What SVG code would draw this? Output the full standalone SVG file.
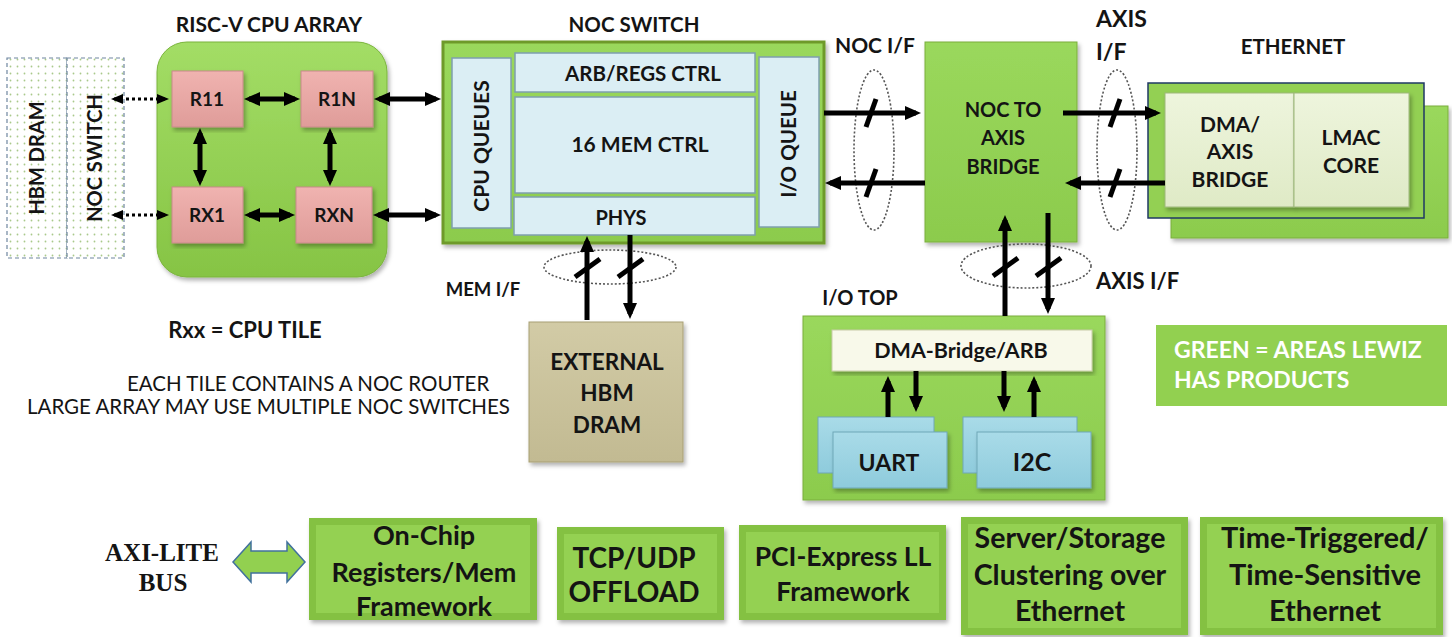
<svg xmlns="http://www.w3.org/2000/svg" width="1452" height="637" viewBox="0 0 1452 637">
<defs>
<style>
text{font-family:Lato,"Open Sans","Liberation Sans",sans-serif;font-weight:bold;fill:#141414;text-anchor:middle}
.reg{font-weight:normal}
.arr{stroke:#000;stroke-width:5;fill:none}
.dot{stroke:#000;stroke-width:3;stroke-dasharray:3 3;fill:none}
.ell{stroke:#555;stroke-width:1.6;stroke-dasharray:2 2;fill:none}
.green{fill:url(#gGreen);stroke:#7aae3c;stroke-width:1}
.inblue{fill:#dbeef4;stroke:#7f9fae;stroke-width:1.5}
.tile{fill:url(#gPink);stroke:#c88a8a;stroke-width:1}
.bev{fill:#84c143}
.bevin{fill:#94d152}
</style>
<linearGradient id="gGreen" x1="0" y1="0" x2="0" y2="1"><stop offset="0" stop-color="#9ad85c"/><stop offset="1" stop-color="#8ccb4d"/></linearGradient>
<linearGradient id="gRound" x1="0" y1="0" x2="0" y2="1"><stop offset="0" stop-color="#a3dd66"/><stop offset="1" stop-color="#86c444"/></linearGradient>
<linearGradient id="gPink" x1="0" y1="0" x2="0" y2="1"><stop offset="0" stop-color="#f0b3b0"/><stop offset="1" stop-color="#df9c99"/></linearGradient>
<linearGradient id="gTan" x1="0" y1="0" x2="0" y2="1"><stop offset="0" stop-color="#d2cba6"/><stop offset="1" stop-color="#c2ba92"/></linearGradient>
<linearGradient id="gLite" x1="0" y1="0" x2="0" y2="1"><stop offset="0" stop-color="#eef5dd"/><stop offset="1" stop-color="#dfeac6"/></linearGradient>
<linearGradient id="gCyan" x1="0" y1="0" x2="0" y2="1"><stop offset="0" stop-color="#a9dbe8"/><stop offset="1" stop-color="#8ecbdc"/></linearGradient>
<pattern id="dots" width="7" height="7" patternUnits="userSpaceOnUse"><rect width="7" height="7" fill="#fff"/><circle cx="3.5" cy="3.5" r="0.9" fill="#a9c98a"/></pattern>
<filter id="sh" x="-5%" y="-5%" width="115%" height="115%"><feDropShadow dx="2" dy="3" stdDeviation="2" flood-color="#000" flood-opacity="0.3"/></filter>
<marker id="ah" markerUnits="userSpaceOnUse" markerWidth="16" markerHeight="16" refX="11" refY="8" orient="auto-start-reverse"><path d="M0,1 L16,8 L0,15 z" fill="#000"/></marker>
<marker id="ahs" markerUnits="userSpaceOnUse" markerWidth="12" markerHeight="12" refX="9" refY="6" orient="auto-start-reverse"><path d="M0,1 L12,6 L0,11 z" fill="#000"/></marker>
</defs>
<rect width="1452" height="637" fill="#fff"/>

<!-- left dashed boxes -->
<g id="hbm-dram-left">
<rect x="7" y="58" width="60" height="200" fill="url(#dots)" stroke="#6f86a0" stroke-width="1.2" stroke-dasharray="4 3"/>
<text x="0" y="0" font-size="20" transform="translate(44,158) rotate(-90)">HBM DRAM</text>
</g>
<g id="noc-switch-left">
<rect x="67" y="58" width="57" height="200" fill="url(#dots)" stroke="#6f86a0" stroke-width="1.2" stroke-dasharray="4 3"/>
<text x="0" y="0" font-size="20" transform="translate(102,158) rotate(-90)">NOC SWITCH</text>
</g>

<!-- RISC-V array -->
<g id="riscv-array">
<text x="269" y="32" font-size="21">RISC-V CPU ARRAY</text>
<rect x="157" y="42" width="230" height="235" rx="30" fill="url(#gRound)" stroke="#7ab43c" filter="url(#sh)"/>
</g>
<g id="r11"><rect class="tile" x="172" y="71" width="71" height="56" filter="url(#sh)"/><text x="207" y="106" font-size="19">R11</text></g>
<g id="r1n"><rect class="tile" x="301" y="71" width="72" height="56" filter="url(#sh)"/><text x="337" y="106" font-size="19">R1N</text></g>
<g id="rx1"><rect class="tile" x="172" y="187" width="71" height="56" filter="url(#sh)"/><text x="207" y="222" font-size="19">RX1</text></g>
<g id="rxn"><rect class="tile" x="296" y="187" width="76" height="56" filter="url(#sh)"/><text x="334" y="222" font-size="19">RXN</text></g>

<!-- NOC switch -->
<g id="noc-switch">
<text x="634" y="32" font-size="20.5">NOC SWITCH</text>
<rect x="443" y="42" width="381" height="201" fill="url(#gGreen)" stroke="#6e9a2a" stroke-width="3" filter="url(#sh)"/>
</g>
<g id="cpu-queues"><rect class="inblue" x="452" y="58" width="59" height="170"/><text x="0" y="0" font-size="21" transform="translate(489,146) rotate(-90)">CPU QUEUES</text></g>
<g id="arb-regs"><rect class="inblue" x="515" y="53" width="240" height="39"/><text x="643" y="81" font-size="20.5">ARB/REGS CTRL</text></g>
<g id="mem-ctrl"><rect class="inblue" x="515" y="97" width="240" height="96"/><text x="640" y="152" font-size="21">16 MEM CTRL</text></g>
<g id="phys"><rect class="inblue" x="514" y="197" width="241" height="38"/><text x="621" y="225" font-size="20">PHYS</text></g>
<g id="io-queue"><rect class="inblue" x="759" y="57" width="60" height="170"/><text x="0" y="0" font-size="20.5" transform="translate(796,144) rotate(-90)">I/O QUEUE</text></g>

<!-- NOC to AXIS bridge -->
<g id="noc-axis-bridge">
<rect class="green" x="925" y="42" width="152" height="200" filter="url(#sh)"/>
<text x="1003" y="117" font-size="20">NOC TO</text>
<text x="1003" y="145" font-size="20">AXIS</text>
<text x="1003" y="174" font-size="20">BRIDGE</text>
</g>

<!-- Ethernet -->
<g id="ethernet">
<text x="1293" y="54" font-size="20.5">ETHERNET</text>
<rect class="green" x="1171" y="106" width="277" height="132" filter="url(#sh)"/>
<rect x="1148" y="83" width="276" height="135" fill="#93d053" stroke="#1f3864" stroke-width="1.5"/>
</g>
<g id="dma-axis-bridge"><rect x="1165" y="93" width="129" height="114" fill="url(#gLite)" stroke="#9db77a" filter="url(#sh)"/>
<text x="1230" y="132" font-size="21">DMA/</text><text x="1230" y="159" font-size="21">AXIS</text><text x="1230" y="187" font-size="21">BRIDGE</text></g>
<g id="lmac-core"><rect x="1294" y="93" width="115" height="114" fill="url(#gLite)" stroke="#9db77a" filter="url(#sh)"/>
<text x="1351" y="145" font-size="21">LMAC</text><text x="1351" y="173" font-size="21">CORE</text></g>

<!-- External HBM -->
<g id="external-hbm">
<rect x="529" y="322" width="154" height="140" fill="url(#gTan)" stroke="#a89f74" filter="url(#sh)"/>
<text x="607" y="370" font-size="22.5">EXTERNAL</text>
<text x="607" y="401" font-size="22.5">HBM</text>
<text x="607" y="433" font-size="22.5">DRAM</text>
</g>

<!-- I/O TOP -->
<g id="io-top">
<text x="860" y="305" font-size="20">I/O TOP</text>
<rect class="green" x="803" y="316" width="302" height="184" filter="url(#sh)"/>
</g>
<g id="dma-bridge-arb"><rect x="832" y="330" width="260" height="41" fill="#f8f9ea" stroke="#c8cca8" filter="url(#sh)"/><text x="961" y="358" font-size="21.5">DMA-Bridge/ARB</text></g>
<g id="uart">
<rect x="818" y="417" width="116" height="56" fill="url(#gCyan)" stroke="#6fa7b7"/>
<rect x="833" y="432" width="114" height="56" fill="url(#gCyan)" stroke="#6fa7b7" filter="url(#sh)"/>
<text x="889" y="471" font-size="23">UART</text>
</g>
<g id="i2c">
<rect x="963" y="417" width="114" height="56" fill="url(#gCyan)" stroke="#6fa7b7"/>
<rect x="977" y="432" width="114" height="56" fill="url(#gCyan)" stroke="#6fa7b7" filter="url(#sh)"/>
<text x="1032" y="471" font-size="25">I2C</text>
</g>

<!-- legend -->
<g id="legend">
<rect x="1156" y="325" width="291" height="81" fill="#92d050"/>
<text x="1174" y="358" font-size="23" style="fill:#fff;text-anchor:start">GREEN = AREAS LEWIZ</text>
<text x="1174" y="388" font-size="23" style="fill:#fff;text-anchor:start">HAS PRODUCTS</text>
</g>

<!-- notes -->
<g id="notes">
<text x="245" y="338" font-size="22">Rxx = CPU TILE</text>
<text class="reg" x="127" y="391" font-size="20.5" style="text-anchor:start">EACH TILE CONTAINS A NOC ROUTER</text>
<text class="reg" x="27" y="414" font-size="20.5" style="text-anchor:start">LARGE ARRAY MAY USE MULTIPLE NOC SWITCHES</text>
</g>

<!-- interface labels -->
<g id="labels">
<text x="875" y="53" font-size="21">NOC I/F</text>
<text x="1096" y="27" font-size="23" style="text-anchor:start">AXIS</text>
<text x="1096" y="60" font-size="23" style="text-anchor:start">I/F</text>
<text x="1096" y="289" font-size="22" style="text-anchor:start">AXIS I/F</text>
<text x="483" y="296" font-size="18.5">MEM I/F</text>
</g>

<!-- bottom row -->
<g id="axi-lite">
<text x="162" y="561" font-size="25" style="font-family:'Liberation Serif',serif">AXI-LITE</text>
<text x="163" y="591" font-size="25" style="font-family:'Liberation Serif',serif">BUS</text>
<polygon points="233,562 251,542 251,551 287,551 287,542 305,562 287,582 287,573 251,573 251,582" fill="#92d050" stroke="#41719c" stroke-width="1.5"/>
</g>
<g id="on-chip"><rect class="bev" x="309" y="518" width="228" height="102" filter="url(#sh)"/><rect class="bevin" x="316" y="525" width="214" height="88"/>
<text x="424" y="545" font-size="27">On-Chip</text><text x="424" y="582" font-size="27">Registers/Mem</text><text x="424" y="616" font-size="27">Framework</text></g>
<g id="tcp-udp"><rect class="bev" x="557" y="527" width="167" height="93" filter="url(#sh)"/><rect class="bevin" x="564" y="534" width="153" height="79"/>
<text x="634" y="568" font-size="28">TCP/UDP</text><text x="634" y="602" font-size="28">OFFLOAD</text></g>
<g id="pcie"><rect class="bev" x="739" y="525" width="207" height="95" filter="url(#sh)"/><rect class="bevin" x="746" y="532" width="193" height="81"/>
<text x="843" y="566" font-size="26.5">PCI-Express LL</text><text x="843" y="601" font-size="26.5">Framework</text></g>
<g id="server-storage"><rect class="bev" x="961" y="517" width="227" height="118" filter="url(#sh)"/><rect class="bevin" x="968" y="524" width="213" height="104"/>
<text x="1070" y="548" font-size="28.5">Server/Storage</text><text x="1070" y="585" font-size="28.5">Clustering over</text><text x="1070" y="621" font-size="28.5">Ethernet</text></g>
<g id="time-triggered"><rect class="bev" x="1200" y="517" width="243" height="118" filter="url(#sh)"/><rect class="bevin" x="1207" y="524" width="229" height="104"/>
<text x="1325" y="548" font-size="29">Time-Triggered/</text><text x="1325" y="585" font-size="29">Time-Sensitive</text><text x="1325" y="621" font-size="29">Ethernet</text></g>

<!-- connectors -->
<g id="connectors">
<line class="dot" x1="114" y1="99" x2="166" y2="99" marker-start="url(#ahs)" marker-end="url(#ahs)"/>
<line class="dot" x1="114" y1="215" x2="166" y2="215" marker-start="url(#ahs)" marker-end="url(#ahs)"/>
<line class="arr" x1="249" y1="99" x2="295" y2="99" marker-start="url(#ah)" marker-end="url(#ah)"/>
<line class="arr" x1="249" y1="215" x2="290" y2="215" marker-start="url(#ah)" marker-end="url(#ah)"/>
<line class="arr" x1="200" y1="133" x2="200" y2="181" marker-start="url(#ah)" marker-end="url(#ah)"/>
<line class="arr" x1="330" y1="133" x2="330" y2="181" marker-start="url(#ah)" marker-end="url(#ah)"/>
<line class="arr" x1="379" y1="99" x2="436" y2="99" marker-start="url(#ah)" marker-end="url(#ah)"/>
<line class="arr" x1="378" y1="215" x2="436" y2="215" marker-start="url(#ah)" marker-end="url(#ah)"/>
<!-- NOC I/F -->
<ellipse class="ell" cx="874" cy="150" rx="20" ry="80"/>
<line class="arr" x1="824" y1="113" x2="916" y2="113" marker-end="url(#ah)"/>
<line class="arr" x1="925" y1="183" x2="830" y2="183" marker-end="url(#ah)"/>
<line class="arr" x1="866" y1="127" x2="876" y2="99"/>
<line class="arr" x1="866" y1="197" x2="876" y2="169"/>
<!-- AXIS I/F top -->
<ellipse class="ell" cx="1117" cy="150" rx="20" ry="80"/>
<line class="arr" x1="1063" y1="113" x2="1156" y2="113" marker-end="url(#ah)"/>
<line class="arr" x1="1165" y1="183" x2="1070" y2="183" marker-end="url(#ah)"/>
<line class="arr" x1="1110" y1="127" x2="1120" y2="99"/>
<line class="arr" x1="1110" y1="197" x2="1120" y2="169"/>
<!-- AXIS I/F bottom -->
<ellipse class="ell" cx="1026" cy="266" rx="65" ry="22"/>
<line class="arr" x1="1005" y1="316" x2="1005" y2="220" marker-end="url(#ah)"/>
<line class="arr" x1="1048" y1="213" x2="1048" y2="309" marker-end="url(#ah)"/>
<line class="arr" x1="993" y1="276" x2="1018" y2="258"/>
<line class="arr" x1="1036" y1="276" x2="1061" y2="258"/>
<!-- MEM I/F -->
<ellipse class="ell" cx="610" cy="267" rx="66" ry="17"/>
<line class="arr" x1="587" y1="320" x2="587" y2="241" marker-end="url(#ah)"/>
<line class="arr" x1="630" y1="235" x2="630" y2="314" marker-end="url(#ah)"/>
<line class="arr" x1="575" y1="277" x2="600" y2="259"/>
<line class="arr" x1="618" y1="277" x2="643" y2="259"/>
<!-- I/O internal -->
<line class="arr" x1="888" y1="417" x2="888" y2="381" marker-end="url(#ah)"/>
<line class="arr" x1="916" y1="371" x2="916" y2="407" marker-end="url(#ah)"/>
<line class="arr" x1="1004" y1="371" x2="1004" y2="407" marker-end="url(#ah)"/>
<line class="arr" x1="1034" y1="417" x2="1034" y2="381" marker-end="url(#ah)"/>
</g>
</svg>
